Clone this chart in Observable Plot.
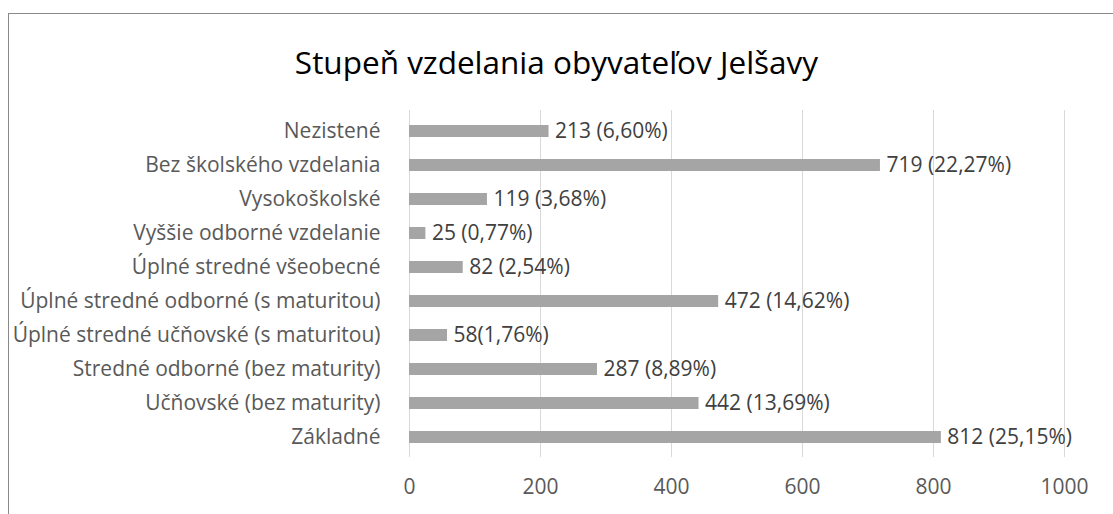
<!DOCTYPE html>
<html>
<head>
<meta charset="utf-8">
<script src="https://cdn.jsdelivr.net/npm/d3@7"></script>
<script src="https://cdn.jsdelivr.net/npm/@observablehq/plot@0.6"></script>
<style>
  html, body { margin: 0; padding: 0; background: #fff; }
  body { width: 1113px; height: 514px; overflow: hidden; position: relative; font-family: "Open Sans", sans-serif; }
  #frame { position: absolute; left: 8px; top: 13px; width: 1200px; height: 600px; border-left: 1px solid #898989; border-top: 1px solid #898989; }
  #title { position: absolute; left: 0; width: 1113px; text-align: center; top: 42px; font-size: 31.5px; line-height: 40px; color: #000; }
  #chart { position: absolute; left: 0; top: 90px; }
</style>
</head>
<body>
<div id="frame"></div>
<div id="title">Stupeň vzdelania obyvateľov Jelšavy</div>
<div id="chart"></div>
<script>
const categories = [
  "Nezistené",
  "Bez školského vzdelania",
  "Vysokoškolské",
  "Vyššie odborné vzdelanie",
  "Úplné stredné všeobecné",
  "Úplné stredné odborné (s maturitou)",
  "Úplné stredné učňovské (s maturitou)",
  "Stredné odborné (bez maturity)",
  "Učňovské (bez maturity)",
  "Základné"
];
const values = [213, 719, 119, 25, 82, 472, 58, 287, 442, 812];
const valueLabels = [
  "213 (6,60%)", "719 (22,27%)", "119 (3,68%)", "25 (0,77%)", "82 (2,54%)",
  "472 (14,62%)", "58(1,76%)", "287 (8,89%)", "442 (13,69%)", "812 (25,15%)"
];
const xTicks = [0, 200, 400, 600, 800, 1000];

const data = categories.map((c, i) => ({category: c, value: values[i], label: valueLabels[i]}));

const chart = Plot.plot({
  width: 1113,
  height: 424,
  marginTop: 20,
  marginBottom: 57,
  marginLeft: 409,
  marginRight: 49,
  style: {fontFamily: "'Open Sans', sans-serif", fontSize: "21px", color: "#595959", background: "transparent", overflow: "visible"},
  x: {domain: [0, 1000]},
  y: {domain: categories, paddingInner: 0.654, paddingOuter: 0.327},
  marks: [
    Plot.gridX(xTicks, {stroke: "#d9d9d9", strokeOpacity: 1, strokeWidth: 1}),
    Plot.axisX({ticks: xTicks, tickFormat: d => String(d), tickSize: 0, tickPadding: 22, fontSize: 21, fill: "#595959", label: null}),
    Plot.axisY({tickSize: 0, tickPadding: 29, fontSize: 21, fill: "#595959", label: null}),
    Plot.barX(data, {x: "value", y: "category", fill: "#a5a5a5"}),
    Plot.text(data, {x: "value", y: "category", text: "label", textAnchor: "start", dx: 6, fill: "#404040", fontSize: 21})
  ]
});
document.getElementById("chart").appendChild(chart);
</script>
</body>
</html>
